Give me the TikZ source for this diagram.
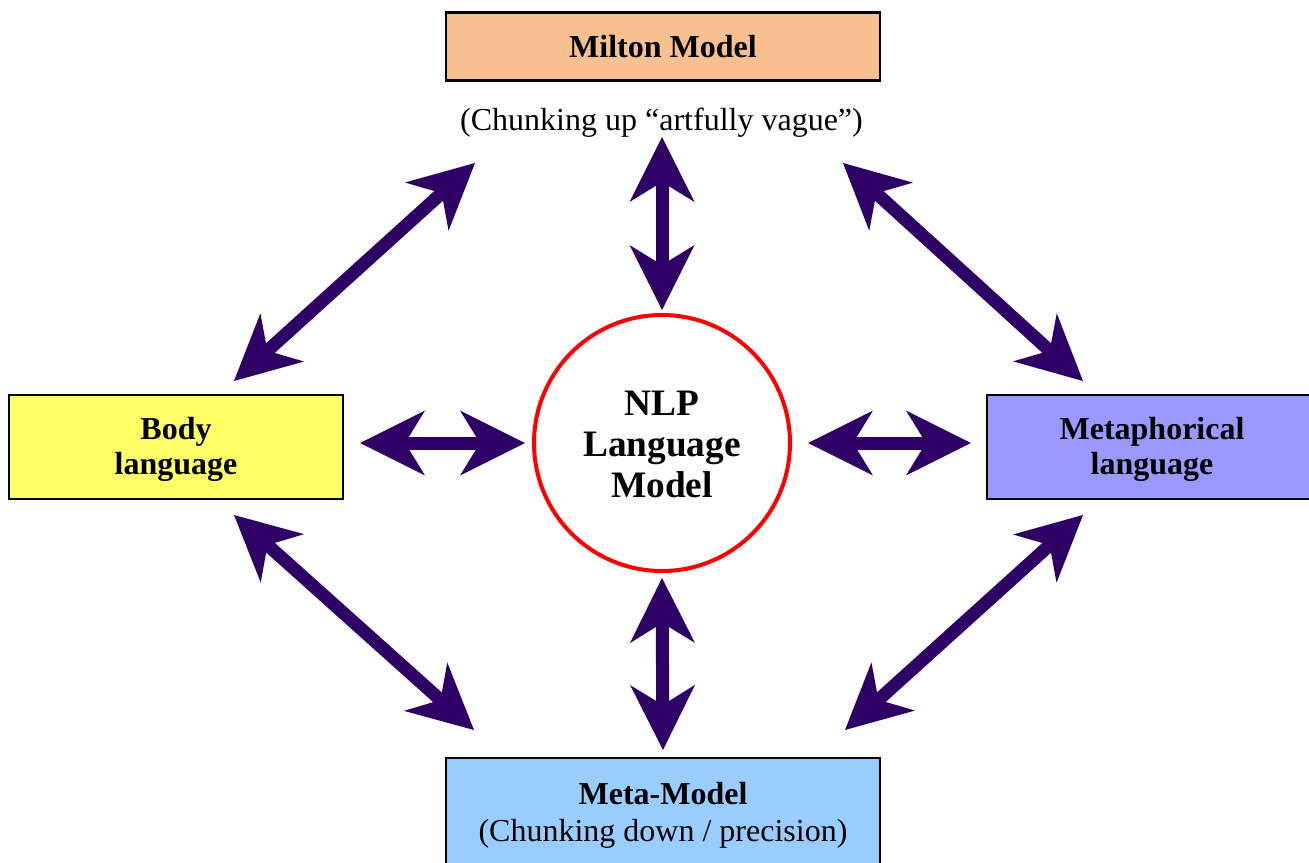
\documentclass[tikz,border=0pt]{standalone}
\usepackage{fontspec}
\setmainfont{Liberation Serif}
\usetikzlibrary{arrows.meta}
\definecolor{arrowc}{HTML}{2E0066}
\definecolor{peach}{HTML}{F8C090}
\definecolor{yel}{HTML}{FFFF66}
\definecolor{lav}{HTML}{9999FF}
\definecolor{sky}{HTML}{99CCFF}
\begin{document}
\begin{tikzpicture}[x=0.75pt,y=-0.75pt,
  box/.style={draw=black,line width=1.6pt,align=center,inner sep=0pt,
    font=\fontsize{24}{26.25}\selectfont\bfseries},
  dbl/.style={draw=arrowc,line width=9.75pt,
    >={Stealth[length=48.75pt,width=48.75pt,inset=15pt,line width=0pt]},<->}]
\useasboundingbox (0,0) rectangle (1309,863);
\clip (0,0) rectangle (1309,863);
\node[box, fill=peach, minimum width=325.5pt, minimum height=51pt] (milton) at (663,46.5) {Milton Model};
\node[font=\fontsize{24}{26}\selectfont, anchor=base, inner sep=0pt] (up) at (661.5,131) {(Chunking up “artfully vague”)};
\node[box, fill=yel, minimum width=250.5pt, minimum height=78pt] (body) at (176,447) {\rule{0pt}{20.7pt}Body\\language};
\node[box, fill=lav, minimum width=247.5pt, minimum height=78pt] (meta) at (1152,447) {\rule{0pt}{20.7pt}Metaphorical\\language};
\node[box, fill=sky, minimum width=325.5pt, minimum height=86.25pt,
  font=\fontsize{24}{27.75}\selectfont\bfseries] (mm) at (663,815.5) {Meta-Model\\{\mdseries (Chunking down / precision)}};
\node[circle, draw=red, line width=3pt, minimum size=192pt, inner sep=0pt, align=center,
  font=\fontsize{28}{30.75}\selectfont\bfseries] (nlp) at (662,443) {\rule{0pt}{20.5pt}NLP\\Language\\Model};
\coordinate (a1) at (234,381);
\coordinate (a2) at (475,163);
\coordinate (b1) at (843,163);
\coordinate (b2) at (1083,381);
\coordinate (c1) at (234,515);
\coordinate (c2) at (474,730);
\coordinate (d1) at (1083,515);
\coordinate (d2) at (845,730);
\coordinate (e1) at (662,137);
\draw[dbl] (a1) -- (a2);
\draw[dbl] (b1) -- (b2);
\draw[dbl] (c1) -- (c2);
\draw[dbl] (d1) -- (d2);
\draw[dbl, shorten <=12pt, shorten >=5.25pt] (body.east |- nlp.west) -- (nlp.west);
\draw[dbl, shorten <=12pt, shorten >=11.25pt] (nlp.east) -- (meta.west |- nlp.east);
\draw[dbl, shorten >=2.25pt] (e1) -- (nlp.north);
\draw[dbl, shorten <=3.75pt, shorten >=5.25pt] (nlp.south) -- (mm.north);
\end{tikzpicture}
\end{document}
